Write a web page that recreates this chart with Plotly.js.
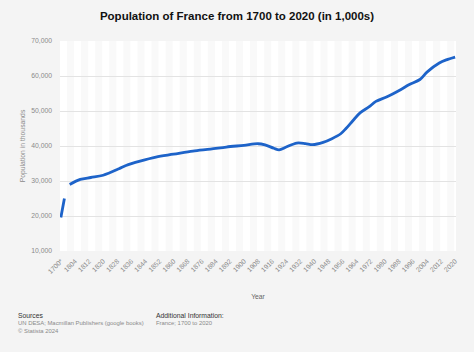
<!DOCTYPE html>
<html>
<head>
<meta charset="utf-8">
<script src="https://cdn.plot.ly/plotly-3.0.1.min.js"></script>
<style>
html,body{margin:0;padding:0;background:#f4f4f4;}
#chart{width:474px;height:352px;}
</style>
</head>
<body>
<div id="chart"></div>
<script>
// ---- data ----
const firstCategory = '1700*';
const firstYearOfSeries = 1797;
const lastYearOfSeries = 2020;

const years = ['1700*','1798','1799','1801','1807','1813','1820','1829','1833','1841','1850',
  '1860','1871','1881','1890','1900','1908','1912','1917','1920','1924','1930','1935',
  '1939','1945','1950','1955','1958','1962','1966','1971','1975','1981','1989','1994',
  '2000','2004','2011','2015','2020'];
const population = [19600,25000,null,29000,30450,31000,31650,33500,34450,35700,36850,
  37650,38550,39100,39700,40200,40650,40300,39350,38900,39700,40850,40700,
  40400,41050,42100,43500,45000,47300,49450,51150,52750,54000,56100,57550,
  59000,61100,63700,64600,65400];

const chartTitle = 'Population of France from 1700 to 2020 (in 1,000s)';
const yTitle = 'Population in thousands';
const xTitle = 'Year';
const sourcesHead = 'Sources';
const sourcesText = ['UN DESA; Macmillan Publishers (google books)', '© Statista 2024'];
const infoHead = 'Additional Information:';
const infoText = 'France; 1700 to 2020';

// full category domain of the x axis
const categories = [firstCategory];
for (let y = firstYearOfSeries; y <= lastYearOfSeries; y++) categories.push(String(y));

// ---- geometry ----
const W = 474, H = 352;
const M = {l: 60, r: 18, t: 41, b: 101};
const plotW = W - M.l - M.r, plotH = H - M.t - M.b;
const px2x = p => (p - M.l) / plotW;
const px2y = p => (H - M.b - p) / plotH;

const font = 'Liberation Sans, Arial, sans-serif';

const helper = {
  x: categories, y: categories.map(() => null), type: 'scatter', mode: 'lines',
  hoverinfo: 'skip', showlegend: false
};
const trace = {
  x: years, y: population, type: 'scatter', mode: 'lines',
  connectgaps: false,
  line: {color: '#1d63c9', width: 2.8, shape: 'spline', smoothing: 0.9},
  hoverinfo: 'x+y', showlegend: false
};

// subtle alternating background bands
const shapes = [];
for (let k = 0; k * 8 < categories.length; k++) {
  shapes.push({type: 'rect', xref: 'x', yref: 'paper', layer: 'below',
    x0: k * 8 - 0.5, x1: k * 8 + 3.5, y0: 0, y1: 1,
    fillcolor: '#ffffff', line: {width: 0}});
}

const ann = [];
const smallGray = {family: font, size: 5.9, color: '#8a8a8a'};
const smallDark = {family: font, size: 6.8, color: '#333333'};
ann.push({text: sourcesHead, x: px2x(16), y: px2y(315), font: smallDark});
ann.push({text: sourcesText[0], x: px2x(16), y: px2y(323), font: smallGray});
ann.push({text: sourcesText[1], x: px2x(16), y: px2y(331), font: smallGray});
ann.push({text: infoHead, x: px2x(154), y: px2y(315), font: smallDark});
ann.push({text: infoText, x: px2x(154), y: px2y(323), font: smallGray});
ann.forEach(a => { a.xref = 'paper'; a.yref = 'paper'; a.xanchor = 'left'; a.yanchor = 'middle'; a.showarrow = false; });

const layout = {
  width: W, height: H,
  margin: M,
  paper_bgcolor: '#f4f4f4',
  plot_bgcolor: '#f9f9f9',
  font: {family: font, color: '#666'},
  title: {text: '<b>' + chartTitle + '</b>', x: 0.5, xref: 'container', xanchor: 'center',
    y: 1 - 16 / H, yref: 'container', yanchor: 'middle',
    font: {family: font, size: 11.5, color: '#111'}},
  xaxis: {
    type: 'category', categoryorder: 'array', categoryarray: categories,
    range: [-0.5, categories.length - 0.5],
    tickmode: 'linear', tick0: 0, dtick: 8,
    tickangle: -45, tickfont: {family: font, size: 6.8, color: '#8a8a8a'},
    showgrid: false, zeroline: false, showline: false, ticks: '',
    ticklabelstandoff: 4,
    title: {text: xTitle, font: {family: font, size: 6.8, color: '#666'}, standoff: 20}
  },
  yaxis: {
    range: [10000, 70000], dtick: 10000, tick0: 10000, tickformat: ',d',
    tickfont: {family: font, size: 6.8, color: '#8a8a8a'},
    gridcolor: '#e3e3e3', gridwidth: 1, zeroline: false, showline: false, ticks: '',
    ticklabelstandoff: 7,
    title: {text: yTitle, font: {family: font, size: 6.8, color: '#8a8a8a'}, standoff: 4}
  },
  shapes: shapes,
  annotations: ann
};

Plotly.newPlot('chart', [helper, trace], layout, {displayModeBar: false, staticPlot: true});
</script>
</body>
</html>
